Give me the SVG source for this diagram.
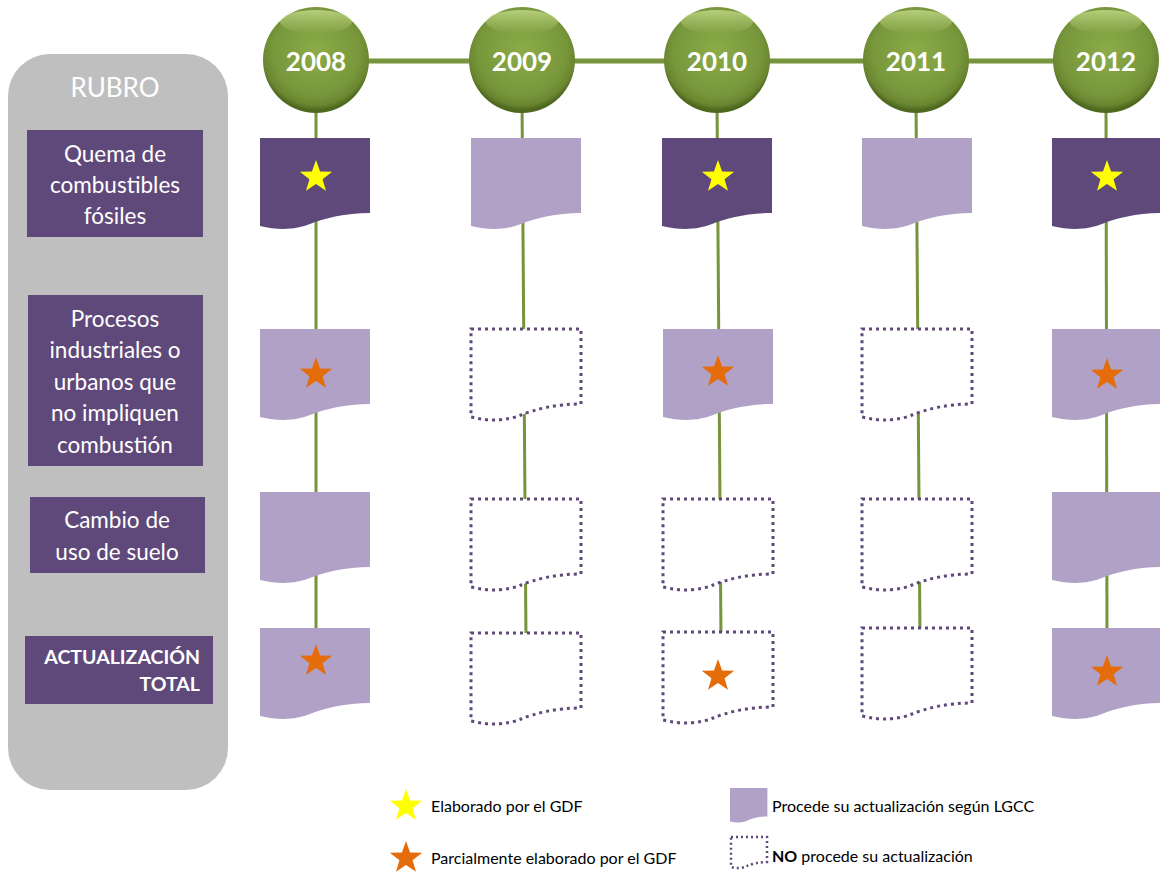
<svg xmlns="http://www.w3.org/2000/svg" xmlns:xlink="http://www.w3.org/1999/xlink" width="1160" height="875" viewBox="0 0 1160 875">
<style>
.ln{stroke:#77933c;fill:none}
.dk{fill:#5f497a}
.lt{fill:#b2a1c7}
.dot{fill:#ffffff;stroke:#5f497a;stroke-width:3;stroke-dasharray:3 4}
.ys{fill:#ffff00}
.os{fill:#e46c0a}
.lab{font-family:Lato,"Liberation Sans",sans-serif;font-size:22.5px;fill:#ffffff;text-anchor:middle}
.yr{font-family:Lato,"Liberation Sans",sans-serif;font-size:26px;font-weight:bold;fill:#ffffff;text-anchor:middle}
.leg{font-family:Lato,"Liberation Sans",sans-serif;font-size:16px;fill:#000000}
</style>
<defs>
<path id="doc" d="M0,0 H110 V75 C85,75 65,80 50,86 C38,91 20,93 0,88 Z"/>
<polygon id="star" points="0,-17 4.06,-5.58 16.17,-5.25 6.56,2.13 9.99,13.75 0,6.9 -9.99,13.75 -6.56,2.13 -16.17,-5.25 -4.06,-5.58"/>
<radialGradient id="gc" cx="50%" cy="42%" r="55%">
<stop offset="0" stop-color="#8cab48"/>
<stop offset="0.75" stop-color="#78973b"/>
<stop offset="0.92" stop-color="#6a8630"/>
<stop offset="1" stop-color="#4f6a1f"/>
</radialGradient>
<linearGradient id="hl" x1="0" y1="0" x2="0" y2="1">
<stop offset="0" stop-color="#c5dc8a" stop-opacity="0.8"/>
<stop offset="1" stop-color="#c5dc8a" stop-opacity="0"/>
</linearGradient>
</defs>

<g id="panel">
<rect x="8" y="54" width="220" height="736" rx="42" fill="#bfbfbf"/>
<text x="115" y="97" class="lab" style="font-size:26px">RUBRO</text>
</g>

<g id="connectors">
<line class="ln" x1="316" y1="61" x2="1106" y2="61" stroke-width="5"/>
<line class="ln" x1="316" y1="100" x2="316" y2="640" stroke-width="3"/>
<line class="ln" x1="522" y1="100" x2="526" y2="640" stroke-width="3"/>
<line class="ln" x1="717" y1="100" x2="721" y2="640" stroke-width="3"/>
<line class="ln" x1="916" y1="100" x2="920" y2="640" stroke-width="3"/>
<line class="ln" x1="1106" y1="100" x2="1107" y2="640" stroke-width="3"/>
</g>

<g id="year-2008"><circle cx="316" cy="60" r="53" fill="url(#gc)"/><ellipse cx="316" cy="22" rx="36" ry="12" fill="url(#hl)"/><text x="316" y="71" class="yr">2008</text></g>
<g id="year-2009"><circle cx="522" cy="60" r="53" fill="url(#gc)"/><ellipse cx="522" cy="22" rx="36" ry="12" fill="url(#hl)"/><text x="522" y="71" class="yr">2009</text></g>
<g id="year-2010"><circle cx="717" cy="60" r="53" fill="url(#gc)"/><ellipse cx="717" cy="22" rx="36" ry="12" fill="url(#hl)"/><text x="717" y="71" class="yr">2010</text></g>
<g id="year-2011"><circle cx="916" cy="60" r="53" fill="url(#gc)"/><ellipse cx="916" cy="22" rx="36" ry="12" fill="url(#hl)"/><text x="916" y="71" class="yr">2011</text></g>
<g id="year-2012"><circle cx="1106" cy="60" r="53" fill="url(#gc)"/><ellipse cx="1106" cy="22" rx="36" ry="12" fill="url(#hl)"/><text x="1106" y="71" class="yr">2012</text></g>

<g id="label-quema"><rect x="27" y="130" width="176" height="107" class="dk"/>
<text class="lab"><tspan x="115" y="162">Quema de</tspan><tspan x="115" y="193">combustibles</tspan><tspan x="115" y="224">fósiles</tspan></text></g>
<g id="label-procesos"><rect x="28" y="295" width="175" height="171" class="dk"/>
<text class="lab"><tspan x="115" y="327">Procesos</tspan><tspan x="115" y="358">industriales o</tspan><tspan x="115" y="390">urbanos que</tspan><tspan x="115" y="421">no impliquen</tspan><tspan x="115" y="453">combustión</tspan></text></g>
<g id="label-cambio"><rect x="30" y="497" width="175" height="76" class="dk"/>
<text class="lab"><tspan x="117" y="528">Cambio de</tspan><tspan x="117" y="560">uso de suelo</tspan></text></g>
<g id="label-total"><rect x="25" y="636" width="188" height="68" class="dk"/>
<text class="lab" style="font-size:19.5px;font-weight:bold;text-anchor:end"><tspan x="200" y="664">ACTUALIZACIÓN</tspan><tspan x="200" y="691">TOTAL</tspan></text></g>

<g id="doc-2008-1"><use xlink:href="#doc" x="260" y="138" class="dk"/><use xlink:href="#star" x="316" y="177" class="ys"/></g>
<g id="doc-2009-1"><use xlink:href="#doc" x="471" y="138" class="lt"/></g>
<g id="doc-2010-1"><use xlink:href="#doc" x="662" y="138" class="dk"/><use xlink:href="#star" x="718" y="177" class="ys"/></g>
<g id="doc-2011-1"><use xlink:href="#doc" x="862" y="138" class="lt"/></g>
<g id="doc-2012-1"><use xlink:href="#doc" x="1052" y="138" class="dk"/><use xlink:href="#star" x="1107" y="177" class="ys"/></g>

<g id="doc-2008-2"><use xlink:href="#doc" x="260" y="329" class="lt"/><use xlink:href="#star" x="316" y="374" class="os"/></g>
<g id="doc-2009-2"><use xlink:href="#doc" x="471" y="329" class="dot"/></g>
<g id="doc-2010-2"><use xlink:href="#doc" x="663" y="329" class="lt"/><use xlink:href="#star" x="718" y="372" class="os"/></g>
<g id="doc-2011-2"><use xlink:href="#doc" x="862" y="329" class="dot"/></g>
<g id="doc-2012-2"><use xlink:href="#doc" x="1052" y="329" class="lt"/><use xlink:href="#star" x="1107" y="375" class="os"/></g>

<g id="doc-2008-3"><use xlink:href="#doc" x="260" y="492" class="lt"/></g>
<g id="doc-2009-3"><use xlink:href="#doc" x="471" y="499" class="dot"/></g>
<g id="doc-2010-3"><use xlink:href="#doc" x="663" y="499" class="dot"/></g>
<g id="doc-2011-3"><use xlink:href="#doc" x="862" y="499" class="dot"/></g>
<g id="doc-2012-3"><use xlink:href="#doc" x="1052" y="492" class="lt"/></g>

<g id="doc-2008-4"><use xlink:href="#doc" x="260" y="628" class="lt"/><use xlink:href="#star" x="316" y="661" class="os"/></g>
<g id="doc-2009-4"><use xlink:href="#doc" x="471" y="633" class="dot"/></g>
<g id="doc-2010-4"><use xlink:href="#doc" x="663" y="632" class="dot"/><use xlink:href="#star" x="718" y="676" class="os"/></g>
<g id="doc-2011-4"><use xlink:href="#doc" x="862" y="628" class="dot"/></g>
<g id="doc-2012-4"><use xlink:href="#doc" x="1052" y="628" class="lt"/><use xlink:href="#star" x="1107" y="672" class="os"/></g>

<g id="legend">
<use xlink:href="#star" x="406" y="806" class="ys"/>
<text x="431" y="812" class="leg">Elaborado por el GDF</text>
<use xlink:href="#star" x="406" y="858" class="os"/>
<text x="431" y="864" class="leg">Parcialmente elaborado por el GDF</text>
<use xlink:href="#doc" transform="translate(730,788) scale(0.34,0.38)" class="lt"/>
<text x="772" y="812" class="leg">Procede su actualización según LGCC</text>
<path d="M731,837 H767 V862 C759,862 752,864 747,866 C743,868 737,869 731,867 Z" fill="#ffffff" stroke="#5f497a" stroke-width="2.5" stroke-dasharray="2 3"/>
<text x="772" y="862" class="leg"><tspan font-weight="bold">NO</tspan> procede su actualización</text>
</g>
</svg>
